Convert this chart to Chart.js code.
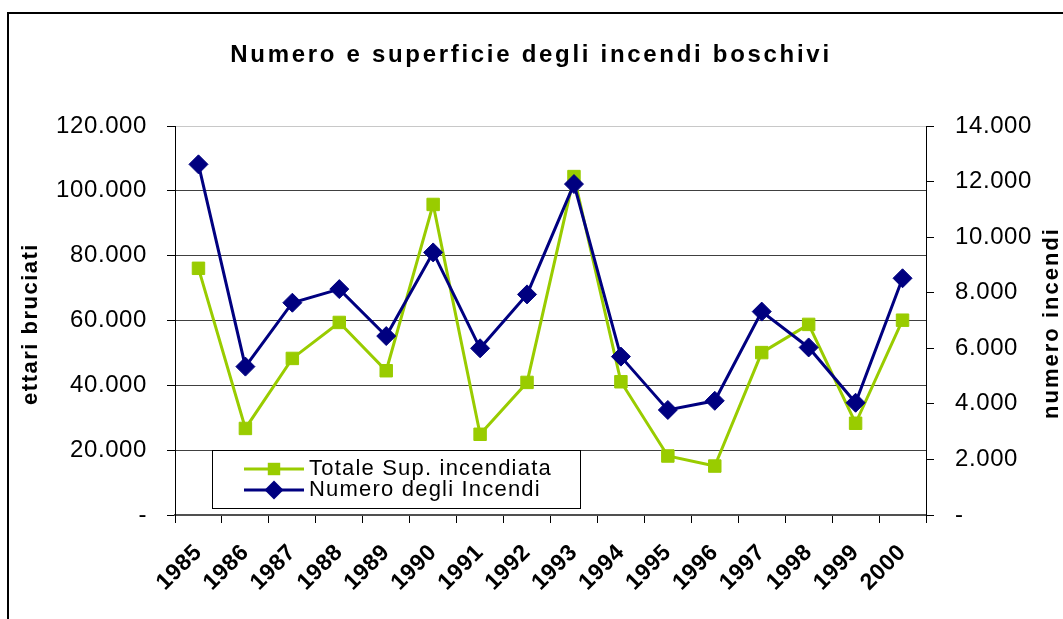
<!DOCTYPE html>
<html>
<head>
<meta charset="utf-8">
<script src="https://cdn.jsdelivr.net/npm/chart.js@4.4.1/dist/chart.umd.min.js"></script>
<style>
  body { margin: 0; background: #fff; }
  canvas { display: block; }
</style>
</head>
<body>
<canvas id="chart" width="1063" height="619"></canvas>
<script>
// values
const years = ['1985', '1986', '1987', '1988', '1989', '1990', '1991', '1992',
               '1993', '1994', '1995', '1996', '1997', '1998', '1999', '2000'];
const superficie = [76100, 26700, 48300, 59400, 44500, 95800, 24900, 40900,
                    104400, 41100, 18200, 15100, 50100, 58800, 28300, 60100];
const numero = [12620, 5340, 7640, 8130, 6440, 9450, 6000, 7940,
                11910, 5700, 3780, 4110, 7320, 6030, 4040, 8520];

const seriesNames = ['Totale Sup. incendiata', 'Numero degli Incendi'];
const titleText = 'Numero e superficie degli incendi boschivi';
const leftTitle = 'ettari bruciati';
const rightTitle = 'numero incendi';
const leftMax = 120000, leftStep = 20000;
const rightMax = 14000, rightStep = 2000;

const FONT = '"Liberation Sans", Arial, sans-serif';
const GREEN = '#99CC00';
const NAVY = '#000080';

// 20000 -> "20.000", 0 -> "-"
const fmt = (v) => v === 0 ? '-' : String(v).replace(/\B(?=(\d{3})+(?!\d))/g, '.');

const drawVertical = (ctx, text, x, y, spacing) => {
    ctx.save();
    ctx.translate(x, y);
    ctx.rotate(-Math.PI / 2);
    ctx.letterSpacing = spacing;
    ctx.textAlign = 'center';
    ctx.textBaseline = 'middle';
    ctx.fillText(text, 0, 0);
    ctx.restore();
};

const drawMarker = (ctx, style, x, y, r) => {
    ctx.beginPath();
    if (style === 'rect') {
        const s = Math.SQRT1_2 * r;
        ctx.rect(x - s, y - s, 2 * s, 2 * s);
    } else {
        ctx.moveTo(x - r, y);
        ctx.lineTo(x, y - r);
        ctx.lineTo(x + r, y);
        ctx.lineTo(x, y + r);
        ctx.closePath();
    }
    ctx.fill();
};

const decorations = {
    id: 'decorations',
    beforeDraw: (chart) => {
        chart.ctx.letterSpacing = '0.6px';
    },
    afterDraw: (chart) => {
        const ctx = chart.ctx;
        ctx.save();

        // outer frame
        ctx.strokeStyle = '#000';
        ctx.lineWidth = 2;
        ctx.strokeRect(8, 13, chart.width + 20, chart.height + 20);

        // title
        ctx.fillStyle = '#000';
        ctx.font = 'bold 24px ' + FONT;
        ctx.letterSpacing = '2.7px';
        ctx.textAlign = 'center';
        ctx.textBaseline = 'alphabetic';
        ctx.fillText(titleText, 531, 62);

        // axis titles
        ctx.font = 'bold 22px ' + FONT;
        drawVertical(ctx, leftTitle, 31, 324, '1.5px');
        drawVertical(ctx, rightTitle, 1052, 323, '2px');

        // legend box
        ctx.letterSpacing = '1.2px';
        ctx.fillStyle = '#fff';
        ctx.fillRect(212, 450, 368, 58);
        ctx.strokeStyle = '#000';
        ctx.lineWidth = 1;
        ctx.strokeRect(212.5, 450.5, 368, 58);
        chart.data.datasets.forEach((ds, i) => {
            const y = 469 + i * 21;
            ctx.strokeStyle = ds.borderColor;
            ctx.lineWidth = 3;
            ctx.beginPath();
            ctx.moveTo(244, y);
            ctx.lineTo(304, y);
            ctx.stroke();
            ctx.fillStyle = ds.backgroundColor;
            drawMarker(ctx, ds.pointStyle, 274, y, ds.pointRadius);
            ctx.fillStyle = '#000';
            ctx.font = '22px ' + FONT;
            ctx.textAlign = 'left';
            ctx.textBaseline = 'middle';
            ctx.fillText(ds.label, 309, y);
        });
        ctx.restore();
    }
};

const config = {
    type: 'line',
    data: {
        labels: years,
        datasets: [{
            label: seriesNames[0],
            data: superficie,
            yAxisID: 'y',
            borderColor: GREEN,
            backgroundColor: GREEN,
            borderWidth: 3,
            pointStyle: 'rect',
            pointRadius: 8.8,
            pointBorderWidth: 1,
            tension: 0,
            order: 2
        }, {
            label: seriesNames[1],
            data: numero,
            yAxisID: 'y1',
            borderColor: NAVY,
            backgroundColor: NAVY,
            borderWidth: 3,
            pointStyle: 'rectRot',
            pointRadius: 9.5,
            pointBorderWidth: 1,
            tension: 0,
            order: 1
        }]
    },
    options: {
        responsive: false,
        animation: false,
        layout: { padding: { top: 126, left: 0, right: 0, bottom: 0 } },
        plugins: {
            legend: { display: false },
            title: { display: false },
            tooltip: { enabled: false }
        },
        scales: {
            x: {
                offset: true,
                grid: { drawOnChartArea: false, offset: true, tickLength: 8, tickColor: '#000' },
                border: { color: '#505050', width: 2 },
                ticks: {
                    autoSkip: false,
                    minRotation: 45,
                    maxRotation: 45,
                    padding: 16,
                    color: '#000',
                    font: { family: FONT, size: 23, weight: 'bold' }
                },
                afterFit: (s) => { s.height = 104; }
            },
            y: {
                position: 'left',
                min: 0,
                max: leftMax,
                grid: {
                    color: (c) => c.tick && c.tick.value === leftMax ? '#c8c8c8' : '#404040',
                    tickColor: '#000',
                    tickLength: 8
                },
                border: { color: '#000', width: 1 },
                ticks: {
                    stepSize: leftStep,
                    padding: 20,
                    color: '#000',
                    font: { family: FONT, size: 24 },
                    callback: fmt
                },
                afterFit: (s) => { s.width = 175; }
            },
            y1: {
                position: 'right',
                min: 0,
                max: rightMax,
                grid: { drawOnChartArea: false, tickColor: '#000', tickLength: 8 },
                border: { color: '#000', width: 1 },
                ticks: {
                    stepSize: rightStep,
                    padding: 21,
                    color: '#000',
                    font: { family: FONT, size: 24 },
                    callback: fmt
                },
                afterFit: (s) => { s.width = 137; }
            }
        }
    },
    plugins: [decorations]
};

new Chart(document.getElementById('chart'), config);
</script>
</body>
</html>
